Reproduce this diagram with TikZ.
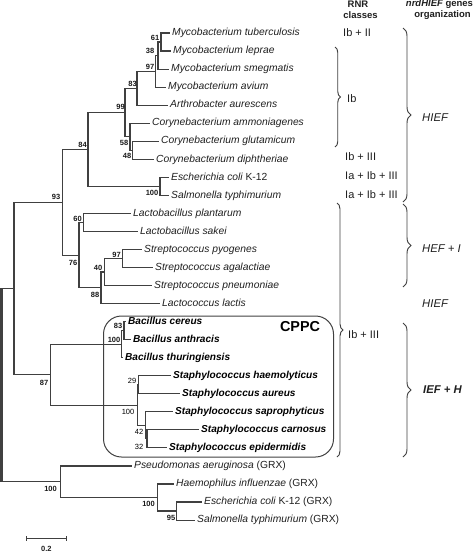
\documentclass[tikz,border=0pt]{standalone}
\usepackage{fontspec}
\setmainfont{Liberation Sans}
\usetikzlibrary{decorations.pathreplacing}
\newcommand\clade[3]{\draw[br] (#2) -- (#1 |- #2) -- (#1 |- #3) -- (#3);}
\begin{document}
\begin{tikzpicture}[x=1pt,y=-1pt,
  br/.style={draw=black!75, line width=1.15pt},
  leaf/.style={anchor=west, inner xsep=2.5pt, inner ysep=0pt, text height=7.4pt, text depth=2pt, text=black!88, font=\fontsize{10.3}{12}\selectfont\itshape},
  bleaf/.style={leaf, text=black, font=\fontsize{10.1}{12}\selectfont\bfseries\itshape},
  boot/.style={anchor=east, inner sep=0pt, text=black!90, font=\fontsize{7.5}{9}\selectfont\bfseries},
  bootl/.style={anchor=east, inner sep=0pt, text=black, font=\fontsize{7.5}{9}\selectfont},
  cls/.style={anchor=west, inner sep=0pt, text=black!88, font=\fontsize{11}{13}\selectfont},
  org/.style={anchor=west, inner sep=0pt, text=black!88, font=\fontsize{11.3}{13}\selectfont\itshape},
  hdr/.style={inner sep=0pt, text=black!88, font=\fontsize{9.5}{11}\selectfont\bfseries},
  brc/.style={draw=black!75, line width=0.95pt, decorate, decoration={brace, amplitude=#1}}
]
\useasboundingbox (0,0) rectangle (474,554);

% CPPC box
\node[draw=black!75, line width=1pt, rounded corners=18pt, minimum width=230pt, minimum height=141pt, inner sep=0pt] (cppc) at (218.5,386.5) {};
\node[inner sep=0pt, font=\fontsize{14.4}{16}\selectfont\bfseries] (cppct) at (300,327) {CPPC};

% leaves
\node[leaf] (L1) at (169.5,33) {Mycobacterium tuberculosis};
\node[leaf] (L2) at (170.5,51.0) {Mycobacterium leprae};
\node[leaf] (L3) at (168.5,69.1) {Mycobacterium smegmatis};
\node[leaf] (L4) at (165.5,87.1) {Mycobacterium avium};
\node[leaf] (L5) at (167.5,105.2) {Arthrobacter aurescens};
\node[leaf] (L6) at (149.5,123.2) {Corynebacterium ammoniagenes};
\node[leaf] (L7) at (158.5,141.2) {Corynebacterium glutamicum};
\node[leaf] (L8) at (153.5,159.3) {Corynebacterium diphtheriae};
\node[leaf] (L9) at (168.5,177.3) {Escherichia coli \upshape K-12};
\node[leaf] (L10) at (168.5,195.4) {Salmonella typhimurium};
\node[leaf] (L11) at (130.5,213.4) {Lactobacillus plantarum};
\node[leaf] (L12) at (137.5,231.4) {Lactobacillus sakei};
\node[leaf] (L13) at (141.5,249.5) {Streptococcus pyogenes};
\node[leaf] (L14) at (152.5,267.5) {Streptococcus agalactiae};
\node[leaf] (L15) at (151.5,285.6) {Streptococcus pneumoniae};
\node[leaf] (L16) at (159.5,303.6) {Lactococcus lactis};
\node[bleaf] (L17) at (125.5,321.6) {Bacillus cereus};
\node[bleaf] (L18) at (130.5,339.7) {Bacillus anthracis};
\node[bleaf] (L19) at (122.5,357.7) {Bacillus thuringiensis};
\node[bleaf] (L20) at (170.5,375.8) {Staphylococcus haemolyticus};
\node[bleaf] (L21) at (179.5,393.8) {Staphylococcus aureus};
\node[bleaf] (L22) at (172.5,411.8) {Staphylococcus saprophyticus};
\node[bleaf] (L23) at (198.5,429.9) {Staphylococcus carnosus};
\node[bleaf] (L24) at (166.5,447.9) {Staphylococcus epidermidis};
\node[leaf] (L25) at (131.5,466.0) {Pseudomonas aeruginosa \upshape(GRX)};
\node[leaf] (L26) at (173.5,484.0) {Haemophilus influenzae \upshape(GRX)};
\node[leaf] (L27) at (201.5,502.0) {Escherichia coli \upshape K-12 (GRX)};
\node[leaf] (L28) at (194.5,520.1) {Salmonella typhimurium \upshape(GRX)};

% internal nodes
\coordinate (n61) at (161,42.0);
\coordinate (n38) at (158,55.55);
\coordinate (n97a) at (155.5,71.3);
\coordinate (n83a) at (137,88.25);
\coordinate (n48) at (132.5,150.25);
\coordinate (n58) at (130,136.7);
\coordinate (n99) at (125,112.5);
\coordinate (n100a) at (160,186.35);
\coordinate (n84) at (88,149.4);
\coordinate (n60) at (83.3,222.4);
\coordinate (n97b) at (122.7,258.5);
\coordinate (n40) at (104.3,272.05);
\coordinate (n88) at (101,287.8);
\coordinate (n76) at (79,255.1);
\coordinate (n93) at (62.3,202.25);
\coordinate (n83b) at (124,330.65);
\coordinate (n100b) at (121.7,344.2);
\coordinate (n29) at (138.5,384.8);
\coordinate (n32) at (147,438.9);
\coordinate (n42) at (145.7,425.35);
\coordinate (n100c) at (137.3,405.1);
\coordinate (n87) at (50.7,374.65);
\coordinate (nA) at (14,288.45);
\coordinate (n95) at (176.7,511.05);
\coordinate (n100d) at (157.3,497.5);
\coordinate (n100e) at (60.7,481.75);
\coordinate (root) at (1.4,385.1);

\clade{n61}{L1}{L2}
\clade{n38}{n61}{L3}
\clade{n97a}{n38}{L4}
\clade{n83a}{n97a}{L5}
\clade{n48}{L7}{L8}
\clade{n58}{L6}{n48}
\clade{n99}{n83a}{n58}
\clade{n100a}{L9}{L10}
\clade{n84}{n99}{n100a}
\clade{n60}{L11}{L12}
\clade{n97b}{L13}{L14}
\clade{n40}{n97b}{L15}
\clade{n88}{n40}{L16}
\clade{n76}{n60}{n88}
\clade{n93}{n84}{n76}
\clade{n83b}{L17}{L18}
\clade{n100b}{n83b}{L19}
\clade{n29}{L20}{L21}
\clade{n32}{L23}{L24}
\clade{n42}{L22}{n32}
\clade{n100c}{n29}{n42}
\clade{n87}{n100b}{n100c}
\clade{nA}{n93}{n87}
\clade{n95}{L27}{L28}
\clade{n100d}{L26}{n95}
\clade{n100e}{L25}{n100d}
\draw[br] (nA) -- (root |- nA);
\draw[br] (n100e) -- (root |- n100e);
\draw[br, line width=2.8pt] (root |- nA) -- (root |- n100e);

% bootstrap values
\node[boot] (b61) at (159.5,37.7) {61};
\node[boot] (b38) at (154.5,51) {38};
\node[boot] (b97a) at (154.5,66.7) {97};
\node[boot] (b83a) at (137,83.5) {83};
\node[boot] (b99) at (125,107.3) {99};
\node[boot] (b58) at (128.5,143) {58};
\node[boot] (b48) at (131.5,156) {48};
\node[boot] (b84) at (87,145) {84};
\node[boot] (b100a) at (158.5,193) {100};
\node[boot] (b93) at (60.5,197) {93};
\node[boot] (b60) at (82,218.5) {60};
\node[boot] (b97b) at (121,255) {97};
\node[boot] (b76) at (77.5,263) {76};
\node[boot] (b40) at (102.5,267.5) {40};
\node[boot] (b88) at (99.5,295) {88};
\node[boot] (b83b) at (122.5,326) {83};
\node[boot] (b100b) at (120.5,340) {100};
\node[boot] (b87) at (48.5,382.5) {87};
\node[bootl] (b29) at (136.5,381) {29};
\node[bootl] (b100c) at (134.5,412) {100};
\node[bootl] (b42) at (143.5,431.5) {42};
\node[bootl] (b32) at (143.5,446.5) {32};
\node[boot] (b100e) at (57,488.5) {100};
\node[boot] (b100d) at (155,503.5) {100};
\node[boot] (b95) at (175.5,517.5) {95};

% scale bar
\coordinate (s1) at (26.7,538);
\coordinate (s2) at (66,538);
\draw[br, line width=0.9pt] (s1) -- (s2);
\draw[br, line width=0.9pt] ([yshift=-2.5pt]s1) -- ([yshift=2.5pt]s1);
\draw[br, line width=0.9pt] ([yshift=-2.5pt]s2) -- ([yshift=2.5pt]s2);
\node[inner sep=0pt, text=black!88, font=\fontsize{7.5}{9}\selectfont\bfseries] (slab) at (46.4,549) {0.2};

% headers
\node[hdr] (h1) at (358,4.5) {RNR};
\node[hdr] (h2) at (360.5,15.5) {classes};
\node[hdr] (h3) at (439.5,4.5) {\itshape nrdHIEF\upshape\ genes};
\node[hdr] (h4) at (442.5,15.5) {organization};

% RNR classes
\node[cls] (c1) at (343,33) {Ib + II};
\draw[brc=5.5pt] (335,47) -- (335,147);
\node[cls] (c2) at (347,99) {Ib};
\node[cls] (c3) at (345,157) {Ib + III};
\node[cls] (c4) at (345,176) {Ia + Ib + III};
\node[cls] (c5) at (345,194.5) {Ia + Ib + III};
\draw[brc=6pt] (337,203) -- (337,457);
\node[cls] (c6) at (348,335) {Ib + III};

% organization
\draw[brc=8pt] (403,28) -- (403,202);
\node[org] (o1) at (422,118) {HIEF};
\draw[brc=8pt] (403,204) -- (403,287);
\node[org] (o2) at (422,249) {HEF + I};
\node[org] (o3) at (422,304) {HIEF};
\draw[brc=8pt] (403,323) -- (403,457);
\node[org, font=\fontsize{11.3}{13}\selectfont\bfseries\itshape] (o4) at (423,390) {IEF + H};
\end{tikzpicture}
\end{document}
